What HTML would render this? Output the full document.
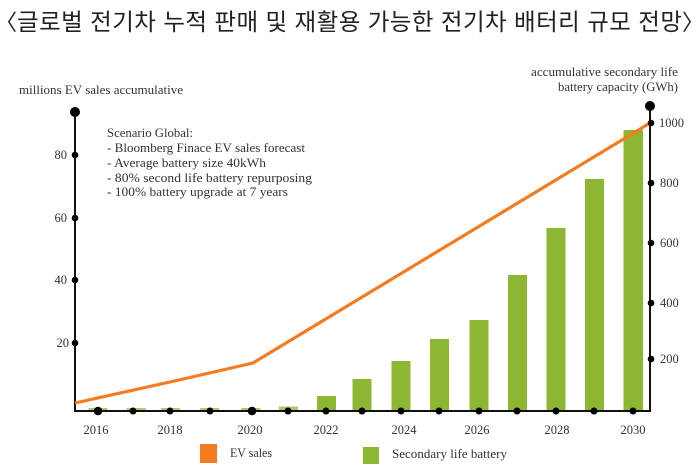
<!DOCTYPE html>
<html><head><meta charset="utf-8"><style>
html,body{margin:0;padding:0;background:#fff;}
svg{display:block;}
.s{font-family:"Liberation Serif",serif;fill:#333;}
</style></head><body>
<svg width="699" height="469" viewBox="0 0 699 469" xmlns="http://www.w3.org/2000/svg">
<rect width="699" height="469" fill="#fff"/>
<!-- title -->
<text x="6" y="30" text-anchor="middle" font-family="Noto Sans CJK KR, sans-serif" font-size="22" fill="#222">〈</text>
<text x="17" y="30" textLength="665" lengthAdjust="spacing" font-family="'Liberation Sans','Noto Sans CJK KR',sans-serif" font-size="23.5" fill="#222">글로벌 전기차 누적 판매 및 재활용 가능한 전기차 배터리 규모 전망</text>
<text x="693" y="30" text-anchor="middle" font-family="Noto Sans CJK KR, sans-serif" font-size="22" fill="#222">〉</text>

<!-- axis titles -->
<text class="s" x="19" y="94" font-size="13" textLength="164" lengthAdjust="spacingAndGlyphs">millions EV sales accumulative</text>
<text class="s" x="678" y="76" font-size="13" text-anchor="end" textLength="147" lengthAdjust="spacingAndGlyphs">accumulative secondary life</text>
<text class="s" x="678" y="91" font-size="13" text-anchor="end" textLength="120" lengthAdjust="spacingAndGlyphs">battery capacity (GWh)</text>

<!-- scenario text -->
<g class="s" font-size="13">
<text class="s" x="107" y="137" textLength="86" lengthAdjust="spacingAndGlyphs">Scenario Global:</text>
<text class="s" x="107" y="152" textLength="198" lengthAdjust="spacingAndGlyphs">- Bloomberg Finace EV sales forecast</text>
<text class="s" x="107" y="167" textLength="159" lengthAdjust="spacingAndGlyphs">- Average battery size 40kWh</text>
<text class="s" x="107" y="182" textLength="205" lengthAdjust="spacingAndGlyphs">- 80% second life battery repurposing</text>
<text class="s" x="107" y="196" textLength="181" lengthAdjust="spacingAndGlyphs">- 100% battery upgrade at 7 years</text>
</g>

<!-- bars -->
<g fill="#8db733">
<rect x="88.5" y="408" width="19" height="3" fill="#a9cb6a"/>
<rect x="126.7" y="408" width="19" height="3" fill="#a9cb6a"/>
<rect x="160.9" y="408" width="19" height="3" fill="#a9cb6a"/>
<rect x="200.1" y="408" width="19" height="3" fill="#a9cb6a"/>
<rect x="241.3" y="408" width="19" height="3" fill="#a9cb6a"/>
<rect x="279" y="406.5" width="19" height="4.5" fill="#a9cb6a"/>
<rect x="317" y="396" width="19" height="15"/>
<rect x="352.5" y="379" width="19" height="32"/>
<rect x="391.5" y="361" width="19" height="50"/>
<rect x="430" y="339" width="19" height="72"/>
<rect x="469.5" y="320" width="19" height="91"/>
<rect x="508" y="275" width="19" height="136"/>
<rect x="546.5" y="228" width="19" height="183"/>
<rect x="585" y="179" width="19" height="232"/>
<rect x="623.5" y="130" width="19.5" height="281"/>
</g>

<!-- axes -->
<g stroke="#111" stroke-width="2" fill="none">
<line x1="75" y1="112" x2="75" y2="411"/>
<line x1="74" y1="411" x2="651" y2="411"/>
<line x1="650" y1="106" x2="650" y2="411"/>
</g>

<!-- orange line -->
<polyline points="75,403 170,382 253,363 650,123" fill="none" stroke="#f47b20" stroke-width="3.2" stroke-linejoin="round"/>

<!-- axis dots -->
<g fill="#000">
<circle cx="75" cy="112" r="5"/>
<circle cx="650" cy="106" r="5"/>
<circle cx="75" cy="155" r="3.3"/>
<circle cx="75" cy="218" r="3.3"/>
<circle cx="75" cy="280" r="3.3"/>
<circle cx="75" cy="343" r="3.3"/>
<circle cx="651" cy="123" r="3.3"/>
<circle cx="651" cy="183" r="3.3"/>
<circle cx="651" cy="243" r="3.3"/>
<circle cx="651" cy="303" r="3.3"/>
<circle cx="651" cy="359" r="3.3"/>
<circle cx="98" cy="411" r="4.3"/>
<circle cx="133" cy="411" r="3.5"/>
<circle cx="170" cy="411" r="3.5"/>
<circle cx="210" cy="411" r="3.5"/>
<circle cx="252" cy="411" r="4.3"/>
<circle cx="288" cy="411" r="3.5"/>
<circle cx="326" cy="411" r="3.5"/>
<circle cx="362" cy="411" r="3.5"/>
<circle cx="401" cy="411" r="3.5"/>
<circle cx="439" cy="411" r="3.5"/>
<circle cx="479" cy="411" r="3.5"/>
<circle cx="517" cy="411" r="3.5"/>
<circle cx="556" cy="411" r="3.5"/>
<circle cx="594" cy="411" r="3.5"/>
<circle cx="633" cy="411" r="3.5"/>
</g>

<!-- left tick labels -->
<g class="s" font-size="12.5" text-anchor="end">
<text class="s" x="67" y="159">80</text>
<text class="s" x="67" y="222">60</text>
<text class="s" x="67" y="284">40</text>
<text class="s" x="69" y="347">20</text>
</g>
<!-- right tick labels -->
<g class="s" font-size="12.5">
<text class="s" x="659" y="127">1000</text>
<text class="s" x="660" y="187">800</text>
<text class="s" x="660" y="247">600</text>
<text class="s" x="660" y="307">400</text>
<text class="s" x="660" y="363">200</text>
</g>
<!-- x labels -->
<g class="s" font-size="12.5" text-anchor="middle">
<text class="s" x="96" y="434">2016</text>
<text class="s" x="170" y="434">2018</text>
<text class="s" x="250" y="434">2020</text>
<text class="s" x="326" y="434">2022</text>
<text class="s" x="404" y="434">2024</text>
<text class="s" x="477" y="434">2026</text>
<text class="s" x="557" y="434">2028</text>
<text class="s" x="633" y="434">2030</text>
</g>

<!-- legend -->
<rect x="200" y="444" width="17" height="19" fill="#f47b20"/>
<text class="s" x="230" y="457" font-size="13" textLength="42" lengthAdjust="spacingAndGlyphs">EV sales</text>
<rect x="363" y="447" width="16" height="17" fill="#8db733"/>
<text class="s" x="392" y="458" font-size="13" textLength="115" lengthAdjust="spacingAndGlyphs">Secondary life battery</text>
</svg>
</body></html>
